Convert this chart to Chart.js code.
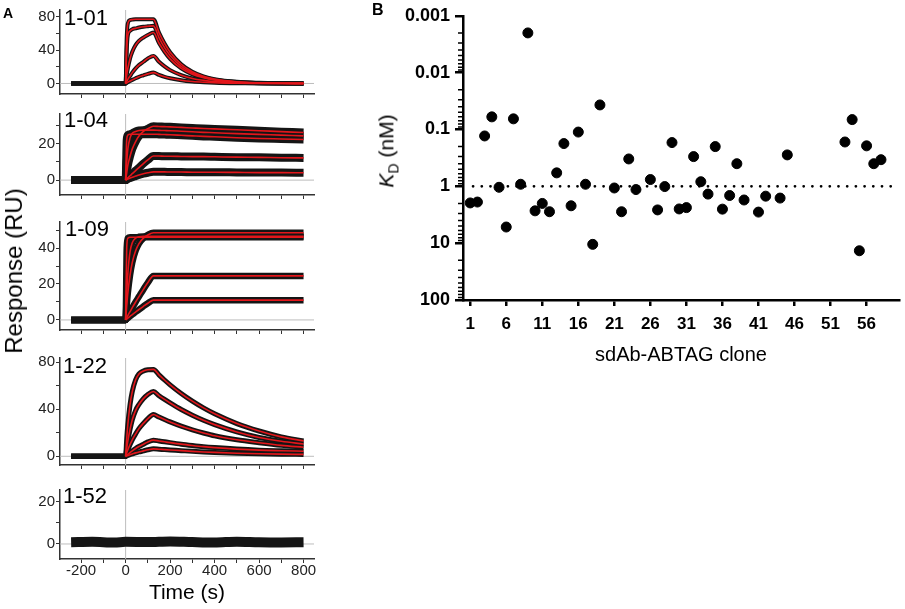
<!DOCTYPE html>
<html>
<head>
<meta charset="utf-8">
<script src="https://cdn.jsdelivr.net/npm/chart.js@4.4.0/dist/chart.umd.min.js"></script>
<style>
html, body { margin: 0; padding: 0; background: #fff; }
body { width: 905px; height: 609px; position: relative; overflow: hidden; font-family: "Liberation Sans", Arial, sans-serif; }
.box { position: absolute; }
.lbl { position: absolute; line-height: 1; white-space: nowrap; color: #000; }
.sub { font-size: 22px; }
</style>
</head>
<body>
<div class="box" id="b01"><canvas id="c01"></canvas></div>
<div class="box" id="b04"><canvas id="c04"></canvas></div>
<div class="box" id="b09"><canvas id="c09"></canvas></div>
<div class="box" id="b22"><canvas id="c22"></canvas></div>
<div class="box" id="b52"><canvas id="c52"></canvas></div>
<div class="box" id="bB" style="left:370px;top:0;width:535px;height:370px"><canvas id="cB"></canvas></div>

<div class="lbl" style="left:3px;top:6px;font-size:14px;font-weight:bold">A</div>
<div class="lbl" style="left:372px;top:2px;font-size:16px;font-weight:bold">B</div>
<div class="lbl sub" style="left:64px;top:7px">1-01</div>
<div class="lbl sub" style="left:64px;top:109px">1-04</div>
<div class="lbl sub" style="left:65px;top:218px">1-09</div>
<div class="lbl sub" style="left:63px;top:355px">1-22</div>
<div class="lbl sub" style="left:63px;top:485px">1-52</div>
<div class="lbl" style="left:14px;top:271px;font-size:24px;transform:translate(-50%,-50%) rotate(-90deg)">Response (RU)</div>
<div class="lbl" style="left:388px;top:151px;font-size:21px;transform:translate(-50%,-50%) rotate(-90deg)"><i>K</i><sub style="font-size:14px">D</sub> (nM)</div>

<script>
// ---- panel A: sensorgrams (time in s, response in RU) ----
const times = [0, 5, 10, 20, 30, 45, 60, 80, 100, 125, 150, 175, 200, 250, 300, 350, 400, 500, 600, 700, 800];
const baselineStart = -245;

const fit01 = [
  [0, 55, 72, 76, 76.5, 77, 77, 77, 77, 77, 61, 48, 37.5, 23, 14, 8.5, 5.2, 2, 0.8, 0.3, 0.1],
  [0, 40, 58, 63, 65, 66, 67, 68, 68.5, 69, 55, 43, 33.5, 20.5, 12.5, 7.6, 4.6, 1.7, 0.6, 0.2, 0.1],
  [0, 10, 18, 30, 38, 46, 51, 55, 58, 61, 48.5, 38, 29.5, 18, 11, 6.8, 4.1, 1.5, 0.6, 0.2, 0.1],
  [0, 2.5, 5, 9, 13, 18, 22, 26, 30, 33, 26, 20.5, 16, 10, 6, 3.7, 2.2, 0.8, 0.3, 0.1, 0],
  [0, 0.8, 1.5, 3, 4.3, 6.2, 8, 9.8, 11.5, 13, 10.3, 8, 6.3, 3.9, 2.4, 1.5, 0.9, 0.3, 0.1, 0, 0]
];
const fit04 = [
  [0, 22, 24.5, 25, 25, 25, 25, 25, 25, 25, 24.9, 24.8, 24.7, 24.4, 24.1, 23.8, 23.6, 23.1, 22.7, 22.4, 22.1],
  [0, 10, 17, 23, 25.5, 26.5, 27, 27.2, 27.2, 27.2, 27.1, 27, 26.9, 26.6, 26.3, 26, 25.8, 25.3, 24.9, 24.5, 24.1],
  [0, 4, 8, 13, 17, 21, 24, 26.5, 28, 29.3, 29.2, 29.1, 29, 28.7, 28.4, 28.1, 27.9, 27.4, 26.9, 26.4, 25.9],
  [0, 0.6, 1.2, 2.4, 3.5, 5.2, 6.8, 9, 11, 13.1, 13.1, 13, 13, 12.9, 12.8, 12.8, 12.7, 12.5, 12.4, 12.2, 12.1],
  [0, 0.3, 0.6, 1.1, 1.6, 2.2, 2.8, 3.5, 4, 4.5, 4.5, 4.5, 4.4, 4.4, 4.3, 4.3, 4.3, 4.2, 4.1, 4.1, 4]
];
const fit09 = [
  [0, 40, 45.5, 46, 46, 46, 46, 46, 46, 46, 46, 46, 46, 46, 46, 46, 46, 46, 46, 46, 46],
  [0, 15, 26, 38, 43, 45.5, 46.3, 46.5, 46.5, 46.5, 46.5, 46.5, 46.5, 46.5, 46.5, 46.5, 46.5, 46.5, 46.5, 46.5, 46.5],
  [0, 8, 15, 25, 32, 38.5, 42.5, 45.5, 47.3, 48.5, 48.5, 48.5, 48.5, 48.5, 48.5, 48.5, 48.5, 48.5, 48.5, 48.5, 48.5],
  [0, 1.2, 2.4, 4.6, 6.8, 10, 13, 17, 20.8, 24.5, 24.5, 24.5, 24.5, 24.5, 24.5, 24.5, 24.5, 24.5, 24.5, 24.5, 24.5],
  [0, 0.5, 1, 2, 3, 4.4, 5.8, 7.6, 9.3, 11, 11, 11, 11, 11, 11, 11, 11, 11, 11, 11, 11]
];
const fit22 = [
  [0, 15, 27, 44, 55, 65, 70, 72.5, 73.5, 73.8, 69.2, 64.8, 60.7, 53.3, 46.8, 41.1, 36.1, 27.8, 21.5, 16.5, 13.1],
  [0, 7, 13, 23, 31, 39, 44, 49, 52.5, 55, 51.5, 48.3, 45.3, 39.7, 34.9, 30.6, 26.9, 20.7, 16, 12.8, 10.4],
  [0, 3, 5.5, 10, 14, 19, 23.5, 28, 32, 35.5, 33.3, 31.2, 29.2, 25.6, 22.5, 19.8, 17.4, 14, 11.5, 9.3, 7.7],
  [0, 0.8, 1.6, 3.2, 4.6, 6.6, 8.3, 10.3, 12.2, 13.7, 13, 12.3, 11.6, 10.3, 9.2, 8.2, 7.4, 6.1, 5.2, 4.7, 4.3],
  [0, 0.35, 0.7, 1.4, 2, 2.9, 3.7, 4.6, 5.5, 6.3, 6, 5.7, 5.4, 4.8, 4.2, 3.7, 3.3, 2.6, 2.1, 1.8, 1.6]
];
const times52 = [-245, -150, -50, 0, 100, 200, 300, 400, 500, 600, 700, 800];
const trace52 = [0.8, 1, 0.7, 1, 0.9, 1.2, 0.9, 0.7, 1.1, 0.8, 0.7, 0.8];

const timeTicks = [-200, -100, 0, 100, 200, 300, 400, 500, 600, 700, 800];
const timeTickLabels = ['-200', '', '0', '', '200', '', '400', '', '600', '', '800'];

const yTicks01 = [0, 20, 40, 60, 80],  yLabels01 = ['0', '', '40', '', '80'];
const yTicks04 = [0, 10, 20, 30],      yLabels04 = ['0', '', '20', ''];
const yTicks09 = [0, 10, 20, 30, 40, 50], yLabels09 = ['0', '', '20', '', '40', ''];
const yTicks22 = [0, 20, 40, 60, 80],  yLabels22 = ['0', '', '40', '', '80'];
const yTicks52 = [0, 10, 20],          yLabels52 = ['0', '', '20'];

// ---- panel B: KD per clone ----
const cloneIds = [1, 2, 3, 4, 5, 6, 7, 8, 9, 10, 11, 12, 13, 14, 15, 16, 17, 18, 19,
  21, 22, 23, 24, 26, 27, 28, 29, 30, 31, 32, 33, 34, 35, 36, 37, 38, 39, 41, 42, 44, 45,
  53, 54, 55, 56, 57, 58];
const kdValues = [1.96, 1.89, 0.13, 0.06, 1.04, 5.2, 0.065, 0.92, 0.002, 2.7, 2.0, 2.8, 0.58, 0.177, 2.2, 0.111, 0.92, 10.5, 0.037,
  1.07, 2.8, 0.33, 1.14, 0.76, 2.6, 1.01, 0.17, 2.5, 2.37, 0.3, 0.83, 1.37, 0.2, 2.52, 1.45, 0.4, 1.74, 2.84, 1.49, 1.61, 0.28,
  0.166, 0.067, 13.6, 0.194, 0.4, 0.34];
const kdTicks = [0.001, 0.01, 0.1, 1, 10, 100];
const kdTickLabels = ['0.001', '0.01', '0.1', '1', '10', '100'];
const cloneTicks = [1, 6, 11, 16, 21, 26, 31, 36, 41, 46, 51, 56];
const refKD = 1;

Chart.defaults.font.family = '"Liberation Sans", Arial, sans-serif';
Chart.defaults.color = '#000';
Chart.defaults.animation = false;

const zeroLines = {
  id: 'zeroLines',
  beforeDatasetsDraw(chart) {
    const {ctx, chartArea: a, scales: {x, y}} = chart;
    const x0 = x.getPixelForValue(0), y0 = y.getPixelForValue(0);
    ctx.save();
    ctx.strokeStyle = '#bdbdbd';
    ctx.lineWidth = 1;
    ctx.beginPath();
    ctx.moveTo(x0, a.top); ctx.lineTo(x0, a.bottom);
    ctx.moveTo(a.left, y0); ctx.lineTo(a.right, y0);
    ctx.stroke();
    ctx.restore();
  }
};

function toPoints(xs, ys) { return xs.map((t, i) => ({x: t, y: ys[i]})); }

function sensorgram(id, box, curves, bandWidth, yMin, yMax, yTicks, yLabels, last) {
  const padTop = 6, xh = last ? 50 : 10;
  const el = document.getElementById('b' + id);
  el.style.left = '0px';
  el.style.top = (box.top - padTop) + 'px';
  el.style.width = '320px';
  el.style.height = (box.bottom - box.top + padTop + xh) + 'px';

  const datasets = [];
  curves.forEach(c => {
    datasets.push({data: toPoints(times, c), borderColor: '#e3161b', borderWidth: 1.6, order: 1});
    datasets.push({data: [{x: baselineStart, y: 0}].concat(toPoints(times, c)),
      borderColor: '#151515', borderWidth: bandWidth, order: 2});
  });
  if (id === '52') {
    datasets.push({data: toPoints(times52, trace52), borderColor: '#151515', borderWidth: bandWidth, order: 2});
  }

  new Chart(document.getElementById('c' + id), {
    type: 'line',
    data: {datasets},
    plugins: [zeroLines],
    options: {
      responsive: true,
      maintainAspectRatio: false,
      layout: {padding: {top: padTop, right: 6, left: 0, bottom: 0}},
      elements: {point: {radius: 0}, line: {cubicInterpolationMode: 'monotone', borderJoinStyle: 'round', borderCapStyle: 'butt'}},
      plugins: {legend: {display: false}, tooltip: {enabled: false}},
      scales: {
        x: {
          type: 'linear', min: -295, max: 847,
          afterBuildTicks: s => { s.ticks = timeTicks.map(v => ({value: v})); },
          afterFit: s => { s.height = xh; },
          grid: {drawOnChartArea: false, color: '#333', tickLength: 4},
          border: {color: '#333', width: 1.5},
          ticks: {autoSkip: false, maxRotation: 0, padding: 0, font: {size: 15, lineHeight: 1}, color: '#222',
            callback: (v, i) => last ? timeTickLabels[i] : ''},
          title: {display: last, text: 'Time (s)', font: {size: 21}, padding: {top: 0, bottom: 3}}
        },
        y: {
          type: 'linear', min: yMin, max: yMax,
          afterBuildTicks: s => { s.ticks = yTicks.map(v => ({value: v})); },
          afterFit: s => { s.width = 60; },
          grid: {drawOnChartArea: false, color: '#333', tickLength: 4},
          border: {color: '#333', width: 1.5},
          ticks: {autoSkip: false, padding: 1, font: {size: 15}, color: '#222', callback: (v, i) => yLabels[i]}
        }
      }
    }
  });
}

sensorgram('01', {top: 6, bottom: 94}, fit01, 4, -12.6, 88, yTicks01, yLabels01, false);
sensorgram('04', {top: 110, bottom: 195}, fit04, 8, -8.1, 36, yTicks04, yLabels04, false);
sensorgram('09', {top: 218, bottom: 330}, fit09, 6.5, -5.6, 54.5, yTicks09, yLabels09, false);
sensorgram('22', {top: 354, bottom: 465}, fit22, 5, -7.4, 83.5, yTicks22, yLabels22, false);
sensorgram('52', {top: 486, bottom: 559}, [], 10, -7.1, 25.5, yTicks52, yLabels52, true);

// minor log ticks (2..9 per decade) on the KD axis
const minorLogTicks = {
  id: 'minorLogTicks',
  afterDraw(chart) {
    const {ctx, chartArea: a, scales: {y}} = chart;
    ctx.save();
    ctx.strokeStyle = '#000';
    ctx.lineWidth = 1.5;
    ctx.beginPath();
    for (let d = 0; d < kdTicks.length - 1; d++) {
      for (let m = 2; m <= 9; m++) {
        const py = y.getPixelForValue(kdTicks[d] * m);
        ctx.moveTo(a.left - 1, py);
        ctx.lineTo(a.left - 5, py);
      }
    }
    ctx.stroke();
    ctx.restore();
  }
};

const xMinB = 0, xMaxB = 60.5;

new Chart(document.getElementById('cB'), {
  type: 'scatter',
  data: {
    datasets: [
      {data: toPoints(cloneIds, kdValues), backgroundColor: '#000', borderColor: '#000', pointRadius: 5, order: 1},
      {data: [{x: xMinB + 1.4, y: refKD}, {x: xMaxB, y: refKD}], showLine: true, pointRadius: 0,
        borderColor: '#000', borderWidth: 2.8, borderDash: [0, 8.7], borderCapStyle: 'round', order: 2}
    ]
  },
  plugins: [minorLogTicks],
  options: {
    responsive: true,
    maintainAspectRatio: false,
    layout: {padding: {top: 10, right: 3, left: 0, bottom: 0}},
    plugins: {legend: {display: false}, tooltip: {enabled: false}},
    scales: {
      x: {
        type: 'linear', min: xMinB, max: xMaxB,
        afterBuildTicks: s => { s.ticks = cloneTicks.map(v => ({value: v})); },
        afterFit: s => { s.height = 70; },
        grid: {drawOnChartArea: false, color: '#000', tickLength: 6, lineWidth: 2.5},
        border: {color: '#000', width: 2.5},
        ticks: {autoSkip: false, maxRotation: 0, padding: 10, font: {size: 17, weight: 'bold', lineHeight: 1}},
        title: {display: true, text: 'sdAb-ABTAG clone', font: {size: 20}, padding: {top: 0, bottom: 3}}
      },
      y: {
        type: 'logarithmic', min: 0.001, max: 100, reverse: true,
        afterBuildTicks: s => { s.ticks = kdTicks.map(v => ({value: v})); },
        afterFit: s => { s.width = 93; },
        grid: {drawOnChartArea: false, color: '#000', tickLength: 8, lineWidth: 2.5},
        border: {color: '#000', width: 2.5},
        ticks: {autoSkip: false, padding: 5, font: {size: 18, weight: 'bold'}, callback: (v, i) => kdTickLabels[i]}
      }
    }
  }
});
</script>
</body>
</html>
